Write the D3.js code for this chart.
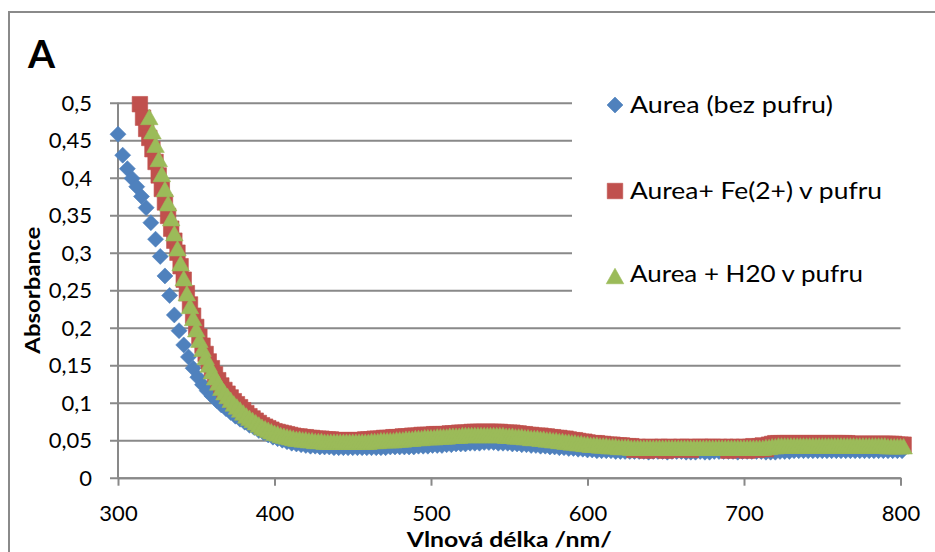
<!DOCTYPE html>
<html>
<head>
<meta charset="utf-8">
<script src="https://cdn.jsdelivr.net/npm/d3@7"></script>
<style>
  html, body { margin: 0; padding: 0; background: #fff; }
  svg { display: block; }
  text { font-family: Lato, "Open Sans", sans-serif; fill: #000; }
</style>
</head>
<body>
<svg id="chart" width="935" height="552"></svg>
<script>
// Wavelengths (nm) of the run without buffer
const WL_BEZ_PUFRU = [
  300,303,306,309,312,315,318,321,324,327,
  330,333,336,339,342,345,348,351,354,357,
  360,363,366,369,372,375,378,381,384,387,
  390,393,396,399,402,405,408,411,414,417,
  420,423,426,429,432,435,438,441,444,447,
  450,453,456,459,462,465,468,471,474,477,
  480,483,486,489,492,495,498,501,504,507,
  510,513,516,519,522,525,528,531,534,537,
  540,543,546,549,552,555,558,561,564,567,
  570,573,576,579,582,585,588,591,594,597,
  600,603,606,609,612,615,618,621,624,627,
  630,633,636,639,642,645,648,651,654,657,
  660,663,666,669,672,675,678,681,684,687,
  690,693,696,699,702,705,708,711,714,717,
  720,723,726,729,732,735,738,741,744,747,
  750,753,756,759,762,765,768,771,774,777,
  780,783,786,789,792,795,798,801
];

// Absorbance, Aurea without buffer
const AUREA_BEZ_PUFRU = [
  0.458,0.430,0.412,0.399,0.388,0.375,0.360,0.340,0.318,0.295,
  0.269,0.243,0.217,0.196,0.177,0.161,0.146,0.134,0.124,0.116,
  0.109,0.103,0.097,0.092,0.087,0.082,0.078,0.074,0.070,0.067,
  0.063,0.060,0.057,0.054,0.052,0.050,0.048,0.046,0.045,0.044,
  0.043,0.042,0.042,0.041,0.041,0.041,0.040,0.040,0.040,0.040,
  0.040,0.040,0.040,0.040,0.040,0.040,0.040,0.040,0.041,0.041,
  0.041,0.041,0.041,0.041,0.042,0.042,0.042,0.043,0.043,0.043,
  0.044,0.044,0.045,0.045,0.045,0.046,0.046,0.046,0.047,0.047,
  0.047,0.046,0.046,0.046,0.045,0.045,0.044,0.044,0.043,0.043,
  0.042,0.042,0.041,0.041,0.040,0.040,0.039,0.039,0.038,0.038,
  0.037,0.037,0.036,0.036,0.036,0.036,0.035,0.035,0.035,0.035,
  0.035,0.035,0.035,0.034,0.035,0.035,0.035,0.034,0.035,0.035,
  0.035,0.034,0.034,0.034,0.035,0.034,0.034,0.035,0.035,0.035,
  0.035,0.035,0.034,0.035,0.035,0.035,0.035,0.035,0.034,0.034,
  0.034,0.035,0.035,0.035,0.036,0.036,0.036,0.036,0.036,0.036,
  0.036,0.036,0.036,0.036,0.036,0.036,0.036,0.036,0.036,0.036,
  0.036,0.036,0.036,0.036,0.036,0.036,0.036,0.036
];

// Wavelengths (nm) of the two buffered runs
const WL_PUFR = [
  314,316,318,320,322,324,326,328,330,332,
  334,336,338,340,342,344,346,348,350,352,
  354,356,358,360,362,364,366,368,370,372,
  374,376,378,380,382,384,386,388,390,392,
  394,396,398,400,402,404,406,408,410,412,
  414,416,418,420,422,424,426,428,430,432,
  434,436,438,440,442,444,446,448,450,452,
  454,456,458,460,462,464,466,468,470,472,
  474,476,478,480,482,484,486,488,490,492,
  494,496,498,500,502,504,506,508,510,512,
  514,516,518,520,522,524,526,528,530,532,
  534,536,538,540,542,544,546,548,550,552,
  554,556,558,560,562,564,566,568,570,572,
  574,576,578,580,582,584,586,588,590,592,
  594,596,598,600,602,604,606,608,610,612,
  614,616,618,620,622,624,626,628,630,632,
  634,636,638,640,642,644,646,648,650,652,
  654,656,658,660,662,664,666,668,670,672,
  674,676,678,680,682,684,686,688,690,692,
  694,696,698,700,702,704,706,708,710,712,
  714,716,718,720,722,724,726,728,730,732,
  734,736,738,740,742,744,746,748,750,752,
  754,756,758,760,762,764,766,768,770,772,
  774,776,778,780,782,784,786,788,790,792,
  794,796,798,800,802
];

// Absorbance, Aurea + Fe(2+) in buffer
const AUREA_FE_PUFR = [
  0.498,0.480,0.465,0.453,0.438,0.421,0.403,0.385,0.367,0.349,
  0.332,0.316,0.300,0.282,0.264,0.246,0.231,0.216,0.201,0.188,
  0.176,0.165,0.155,0.146,0.138,0.130,0.123,0.117,0.112,0.107,
  0.102,0.098,0.094,0.090,0.086,0.082,0.079,0.076,0.073,0.070,
  0.068,0.066,0.064,0.062,0.061,0.060,0.059,0.058,0.057,0.056,
  0.055,0.055,0.054,0.054,0.053,0.053,0.052,0.052,0.052,0.051,
  0.051,0.051,0.050,0.050,0.050,0.050,0.050,0.050,0.050,0.050,
  0.050,0.050,0.051,0.051,0.051,0.052,0.052,0.052,0.053,0.053,
  0.053,0.054,0.054,0.054,0.055,0.055,0.055,0.056,0.056,0.056,
  0.057,0.057,0.057,0.057,0.058,0.058,0.058,0.058,0.058,0.059,
  0.059,0.059,0.060,0.060,0.060,0.060,0.061,0.061,0.061,0.061,
  0.061,0.061,0.061,0.061,0.061,0.061,0.060,0.060,0.060,0.060,
  0.059,0.059,0.058,0.058,0.057,0.057,0.056,0.056,0.056,0.055,
  0.055,0.054,0.054,0.053,0.053,0.052,0.052,0.051,0.050,0.050,
  0.049,0.048,0.048,0.047,0.046,0.046,0.046,0.045,0.045,0.044,
  0.044,0.044,0.043,0.043,0.043,0.042,0.042,0.042,0.037,0.041,
  0.038,0.041,0.036,0.041,0.040,0.037,0.041,0.041,0.036,0.041,
  0.040,0.037,0.041,0.041,0.040,0.041,0.037,0.041,0.040,0.041,
  0.041,0.040,0.041,0.041,0.040,0.041,0.040,0.041,0.036,0.041,
  0.037,0.041,0.040,0.041,0.036,0.041,0.042,0.037,0.042,0.043,
  0.038,0.044,0.045,0.046,0.046,0.046,0.046,0.046,0.046,0.046,
  0.046,0.046,0.046,0.046,0.046,0.046,0.046,0.046,0.046,0.046,
  0.046,0.046,0.046,0.046,0.046,0.046,0.046,0.045,0.045,0.045,
  0.045,0.045,0.045,0.045,0.045,0.045,0.045,0.045,0.045,0.045,
  0.045,0.045,0.044,0.044,0.044
];

// Absorbance, Aurea + H2O in buffer (null = above the axis maximum)
const AUREA_H2O_PUFR = [
  null,null,null,0.481,0.462,0.444,0.425,0.405,0.385,0.366,
  0.346,0.326,0.306,0.286,0.266,0.246,0.229,0.213,0.198,0.184,
  0.172,0.161,0.151,0.142,0.134,0.127,0.120,0.114,0.109,0.104,
  0.099,0.095,0.091,0.087,0.083,0.080,0.077,0.074,0.071,0.068,
  0.066,0.064,0.062,0.060,0.059,0.057,0.056,0.055,0.054,0.053,
  0.052,0.052,0.051,0.051,0.050,0.050,0.049,0.049,0.049,0.048,
  0.048,0.048,0.048,0.048,0.048,0.048,0.048,0.048,0.048,0.048,
  0.048,0.048,0.048,0.048,0.049,0.049,0.049,0.050,0.050,0.050,
  0.050,0.050,0.051,0.051,0.051,0.052,0.052,0.052,0.053,0.053,
  0.053,0.054,0.054,0.054,0.054,0.055,0.055,0.055,0.055,0.056,
  0.056,0.056,0.056,0.057,0.057,0.057,0.057,0.057,0.057,0.057,
  0.057,0.057,0.057,0.057,0.057,0.057,0.057,0.056,0.056,0.056,
  0.055,0.055,0.055,0.054,0.054,0.053,0.053,0.053,0.052,0.052,
  0.051,0.051,0.050,0.050,0.049,0.049,0.048,0.048,0.047,0.047,
  0.046,0.046,0.045,0.045,0.044,0.044,0.044,0.043,0.043,0.043,
  0.042,0.042,0.042,0.041,0.041,0.041,0.041,0.040,0.040,0.040,
  0.040,0.040,0.040,0.040,0.040,0.040,0.040,0.040,0.040,0.040,
  0.040,0.040,0.040,0.040,0.040,0.040,0.040,0.040,0.040,0.040,
  0.040,0.040,0.040,0.040,0.040,0.040,0.040,0.040,0.040,0.040,
  0.040,0.040,0.040,0.040,0.040,0.040,0.040,0.040,0.040,0.040,
  0.041,0.041,0.042,0.042,0.043,0.043,0.043,0.043,0.043,0.043,
  0.043,0.043,0.043,0.043,0.043,0.043,0.043,0.043,0.043,0.043,
  0.043,0.043,0.043,0.043,0.043,0.043,0.043,0.043,0.043,0.043,
  0.043,0.043,0.043,0.043,0.043,0.043,0.043,0.043,0.043,0.042,
  0.042,0.042,0.042,0.042,0.042
];

const SERIES_NAMES = ["Aurea (bez pufru)", "Aurea+ Fe(2+) v pufru", "Aurea + H20 v pufru"];
const X_TICKS = [300, 400, 500, 600, 700, 800];
const Y_TICKS = [0, 0.05, 0.1, 0.15, 0.2, 0.25, 0.3, 0.35, 0.4, 0.45, 0.5];
const PANEL_LABEL = "A";
const X_TITLE = "Vlnová délka /nm/";
const Y_TITLE = "Absorbance";

// ---- layout ----
const svg = d3.select("#chart");
const plot = { left: 118, right: 900.5, top: 102.7, bottom: 477.7 };
const GRID = "#898989";

const x = d3.scaleLinear().domain([300, 800]).range([plot.left, plot.right]);
const y = d3.scaleLinear().domain([0, 0.5]).range([plot.bottom, plot.top]);

// marker shapes (pixel sizes)
const shapes = {
  diamond: s => { const h = s / 2; return `M0,${-h}L${h},0L0,${h}L${-h},0Z`; },
  square: s => { const h = s / 2; return `M${-h},${-h}H${h}V${h}H${-h}Z`; },
  triangle: s => { const w = s * 1.13 / 2, h = s / 2; return `M0,${-h}L${w},${h}L${-w},${h}Z`; }
};

const series = [
  { name: SERIES_NAMES[0], wl: WL_BEZ_PUFRU, values: AUREA_BEZ_PUFRU, color: "#4F81BD", shape: "diamond", size: 16 },
  { name: SERIES_NAMES[1], wl: WL_PUFR, values: AUREA_FE_PUFR, color: "#C0504D", shape: "square", size: 15.5 },
  { name: SERIES_NAMES[2], wl: WL_PUFR, values: AUREA_H2O_PUFR, color: "#9BBB59", shape: "triangle", size: 15.5 }
];

// chart frame
svg.append("rect")
  .attr("x", 9).attr("y", 12).attr("width", 960).attr("height", 600)
  .attr("fill", "#fff").attr("stroke", "#8a8a8a").attr("stroke-width", 2);

// horizontal gridlines + y axis
const yAxis = svg.append("g")
  .attr("transform", `translate(${plot.left},0)`)
  .call(d3.axisLeft(y).tickValues(Y_TICKS).tickSize(0).tickPadding(26)
    .tickFormat(d => d === 0 ? "0" : String(d).replace(".", ",")));
yAxis.select(".domain").remove();
yAxis.selectAll(".tick line")
  .attr("x1", -8).attr("x2", plot.right - plot.left)
  .attr("stroke", GRID).attr("stroke-width", 2);
yAxis.selectAll(".tick text")
  .attr("font-size", 22).attr("fill", "#111").attr("dy", "0.34em");

// y axis line
svg.append("line")
  .attr("x1", plot.left).attr("x2", plot.left)
  .attr("y1", plot.top).attr("y2", plot.bottom)
  .attr("stroke", GRID).attr("stroke-width", 2);

// x axis
const xAxis = svg.append("g")
  .attr("transform", `translate(0,${plot.bottom})`)
  .call(d3.axisBottom(x).tickValues(X_TICKS).tickSizeOuter(0).tickSizeInner(8).tickPadding(20)
    .tickFormat(d3.format("d")));
xAxis.select(".domain").attr("stroke", GRID).attr("stroke-width", 2);
xAxis.selectAll(".tick line").attr("stroke", GRID).attr("stroke-width", 2);
xAxis.selectAll(".tick text").attr("font-size", 22).attr("fill", "#111");

// data markers
const gMarks = svg.append("g");
series.forEach(s => {
  const pts = s.wl.map((w, i) => ({ w, v: s.values[i] })).filter(p => p.v != null);
  gMarks.append("g")
    .selectAll("path")
    .data(pts)
    .join("path")
    .attr("d", shapes[s.shape](s.size))
    .attr("transform", p => `translate(${x(p.w)},${y(p.v)})`)
    .attr("fill", s.color)
    .attr("stroke", s.color)
    .attr("stroke-width", 0.6);
});

// legend
const legend = svg.append("g");
legend.append("rect")
  .attr("x", 572).attr("y", 84).attr("width", 336).attr("height", 218)
  .attr("fill", "#fff");
const legendRows = [
  { cy: 105, base: 113, len: 203 },
  { cy: 191, base: 198.5, len: 252 },
  { cy: 276, base: 282, len: 233 }
];
series.forEach((s, i) => {
  const r = legendRows[i];
  legend.append("path")
    .attr("d", shapes[s.shape](s.size))
    .attr("transform", `translate(615,${r.cy})`)
    .attr("fill", s.color).attr("stroke", s.color).attr("stroke-width", 0.6);
  legend.append("text")
    .attr("x", 630).attr("y", r.base)
    .attr("font-size", 23)
    .attr("textLength", r.len).attr("lengthAdjust", "spacingAndGlyphs")
    .text(s.name);
});

// panel letter
svg.append("text")
  .attr("x", 28).attr("y", 68)
  .attr("font-size", 39).attr("font-weight", 700)
  .text(PANEL_LABEL);

// axis titles
svg.append("text")
  .attr("x", (plot.left + plot.right) / 2).attr("y", 547)
  .attr("text-anchor", "middle")
  .attr("font-size", 21).attr("font-weight", 700)
  .attr("textLength", 205).attr("lengthAdjust", "spacingAndGlyphs")
  .text(X_TITLE);

svg.append("text")
  .attr("transform", `translate(39.5,${(plot.top + plot.bottom) / 2}) rotate(-90)`)
  .attr("text-anchor", "middle")
  .attr("font-size", 20).attr("font-weight", 700)
  .attr("textLength", 127).attr("lengthAdjust", "spacingAndGlyphs")
  .text(Y_TITLE);
</script>
</body>
</html>
